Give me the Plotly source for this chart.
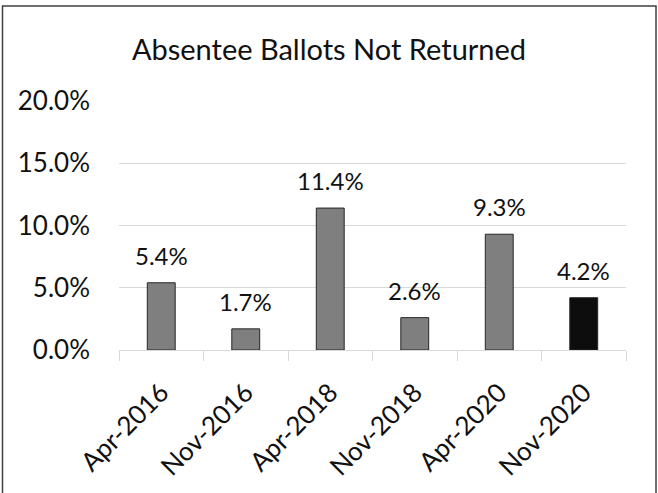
import plotly.graph_objects as go

categories = ["Apr-2016", "Nov-2016", "Apr-2018", "Nov-2018", "Apr-2020", "Nov-2020"]
values = [0.054, 0.017, 0.114, 0.026, 0.093, 0.042]
labels = ["5.4%", "1.7%", "11.4%", "2.6%", "9.3%", "4.2%"]
bar_colors = ["#7f7f7f", "#7f7f7f", "#7f7f7f", "#7f7f7f", "#7f7f7f", "#0d0d0d"]
y_ticks = [0, 0.05, 0.10, 0.15, 0.20]
y_tick_labels = ["0.0%", "5.0%", "10.0%", "15.0%", "20.0%"]

FONT = "Lato"

fig = go.Figure()
fig.add_trace(go.Bar(
    x=categories, y=values,
    marker=dict(color=bar_colors, line=dict(color="#262626", width=1)),
    width=0.33,
    hoverinfo="skip",
))

for c, v, t in zip(categories, values, labels):
    fig.add_annotation(x=c, y=v, text=t, showarrow=False, yanchor="bottom",
                       yshift=11, font=dict(family=FONT, size=24, color="#111111"))

L, R, T, B = 119, 32, 101, 143
W, H = 658, 493
pw = W - L - R
ph = H - T - B

fig.add_shape(type="rect", xref="paper", yref="paper",
              x0=(2.5 - L) / pw, x1=(656 - L) / pw,
              y0=-(500 - (H - B)) / ph, y1=((H - B) - 6) / ph,
              line=dict(color="#404040", width=1.5), fillcolor="rgba(0,0,0,0)", layer="below")

fig.update_layout(
    width=W, height=H,
    margin=dict(l=L, r=R, t=T, b=B, autoexpand=False),
    paper_bgcolor="white", plot_bgcolor="white",
    showlegend=False,
    title=dict(text="Absentee Ballots Not Returned", x=0.5, xref="container",
               y=(H - 50) / H, yanchor="middle",
               font=dict(family=FONT, size=29, color="#111111")),
    font=dict(family=FONT, color="#111111"),
    yaxis=dict(range=[0, 0.2], tickvals=y_ticks, ticktext=y_tick_labels,
               showgrid=True, gridcolor="#d9d9d9", gridwidth=1,
               zeroline=False, showline=False, ticks="",
               ticklabelstandoff=28, automargin=False,
               tickfont=dict(family=FONT, size=26, color="#111111")),
    xaxis=dict(tickangle=-45, showline=True, linecolor="#d9d9d9", linewidth=1,
               ticks="outside", tickson="boundaries", ticklen=10, tickcolor="#d9d9d9",
               showgrid=False, ticklabelstandoff=16, automargin=False,
               tickfont=dict(family=FONT, size=26, color="#111111")),
    bargap=0.67,
)

fig.write_html("out.html", config={"displayModeBar": False},
               post_script="document.body.style.margin='0';")
